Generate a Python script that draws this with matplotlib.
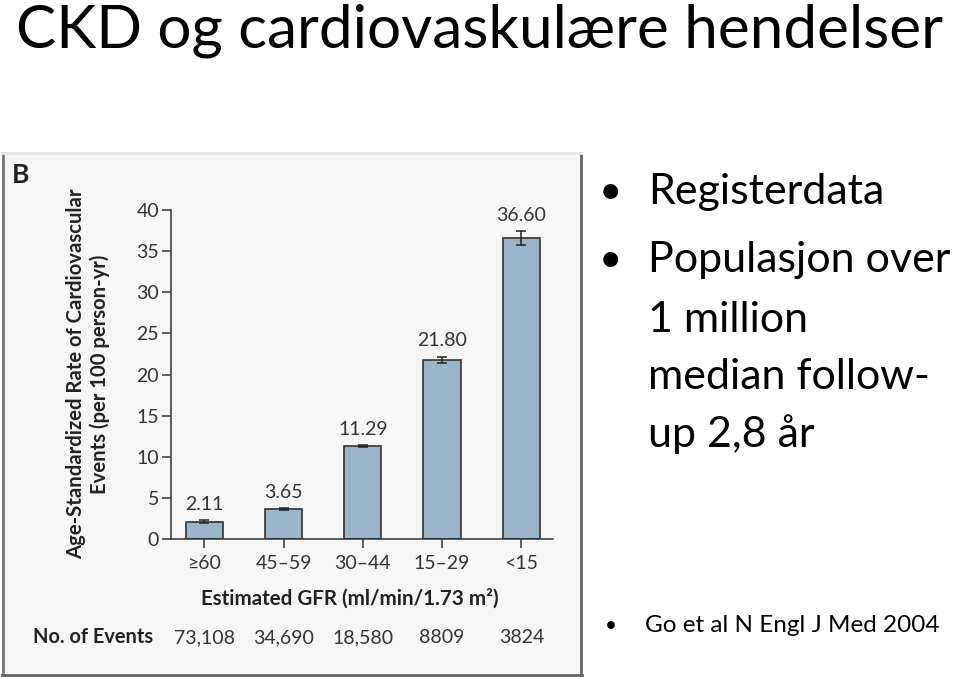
import matplotlib
matplotlib.use("Agg")
import matplotlib.pyplot as plt
from matplotlib.patches import Rectangle
from matplotlib.lines import Line2D
from matplotlib.transforms import blended_transform_factory

# ---------------- data ----------------
categories = ["≥60", "45–59", "30–44", "15–29", "<15"]
rates = [2.11, 3.65, 11.29, 21.80, 36.60]
errors = [0.15, 0.10, 0.12, 0.35, 0.80]
events = ["73,108", "34,690", "18,580", "8809", "3824"]
yticks = [0, 5, 10, 15, 20, 25, 30, 35, 40]

title = "CKD og cardiovaskulære hendelser"
bullet_lines = [("•", "Registerdata"), ("•", "Populasjon over"), ("", "1 million"),
                ("", "median follow-"), ("", "up 2,8 år")]
reference = "Go et al N Engl J Med 2004"

W, H = 960, 678
plt.rcParams['font.family'] = ['Lato', 'DejaVu Sans']
fig = plt.figure(figsize=(W / 100, H / 100), dpi=100)
fig.patch.set_facecolor("white")


def fx(x):
    return x / W


def fy(y):
    return 1 - y / H


# panel background
fig.patches.append(Rectangle((fx(2), fy(675)), fx(581) - fx(2), fy(153) - fy(675),
                             transform=fig.transFigure, facecolor="#f6f6f6",
                             edgecolor="none", zorder=-2))
for (x0, y0, x1, y1, c) in [(3, 153, 3, 675, "#777777"), (581, 153, 581, 675, "#666666"),
                            (2, 675, 582, 675, "#666666"), (2, 153, 581, 153, "#e6e6e6")]:
    fig.lines.append(Line2D([fx(x0), fx(x1)], [fy(y0), fy(y1)], transform=fig.transFigure,
                            color=c, lw=2, zorder=-1))

# axes
ax = fig.add_axes([fx(171), fy(539), fx(553) - fx(171), fy(210) - fy(539)])
ax.set_zorder(2)
ax.set_facecolor("none")
x = list(range(len(categories)))
ax.bar(x, rates, width=0.47, color="#9bb5c8", edgecolor="#333333", linewidth=1.2, zorder=2)
ax.errorbar(x, rates, yerr=errors, fmt="none", ecolor="#222222", elinewidth=1.1,
            capsize=3.5, capthick=1.1, zorder=3)
for xi, v, e in zip(x, rates, errors):
    ax.text(xi, v + e + 0.9, f"{v:.2f}", ha="center", va="bottom", fontsize=14,
            color="#333333")
ax.set_xlim(-0.42, 4.40)
ax.set_ylim(0, 40)
ax.set_yticks(yticks)
ax.set_yticklabels([str(t) for t in yticks])
ax.set_xticks(x)
ax.set_xticklabels(categories)
for s in ["top", "right"]:
    ax.spines[s].set_visible(False)
for s in ["left", "bottom"]:
    ax.spines[s].set_color("#333333")
    ax.spines[s].set_linewidth(1.1)
ax.tick_params(axis="both", direction="out", length=6.5, width=1.1, color="#333333",
               labelsize=14, labelcolor="#333333", pad=2)
ax.tick_params(axis="x", pad=5)

# no. of events row
tr = blended_transform_factory(ax.transData, fig.transFigure)
for xi, ev in zip(x, events):
    ax.text(xi, fy(643), ev, transform=tr, ha="center", va="baseline", fontsize=14,
            color="#333333")
fig.text(fx(33), fy(643), "No. of Events", ha="left", va="baseline", fontsize=14.4,
         fontweight="bold", color="#222222")

# axis labels
fig.text(fx(350), fy(598), "Estimated GFR (ml/min/1.73 m²)", ha="center", va="center",
         fontsize=14.8, fontweight="bold", color="#222222")
fig.text(fx(88), fy(374), "Age-Standardized Rate of Cardiovascular\nEvents (per 100 person-yr)",
         ha="center", va="center", rotation=90, multialignment="center", fontsize=14.6,
         fontweight="bold", color="#222222", linespacing=1.2)
fig.text(fx(12), fy(183), "B", ha="left", va="baseline", fontsize=19, fontweight="bold",
         color="#222222")

# slide title
fig.text(fx(16), fy(47), title, ha="left", va="baseline", fontsize=43.4, color="black")

# bullets
baselines = [204, 272, 332, 389, 447]
for (b, t), yb in zip(bullet_lines, baselines):
    if b:
        fig.text(fx(610), fy(yb), b, ha="center", va="baseline", fontsize=29, color="black")
    fig.text(fx(648), fy(yb), t, ha="left", va="baseline", fontsize=31, color="black")

fig.text(fx(611), fy(632), "•", ha="center", va="baseline", fontsize=15, color="black")
fig.text(fx(645), fy(632), reference, ha="left", va="baseline", fontsize=17.5, color="black")

fig.savefig("out.png", dpi=100)
